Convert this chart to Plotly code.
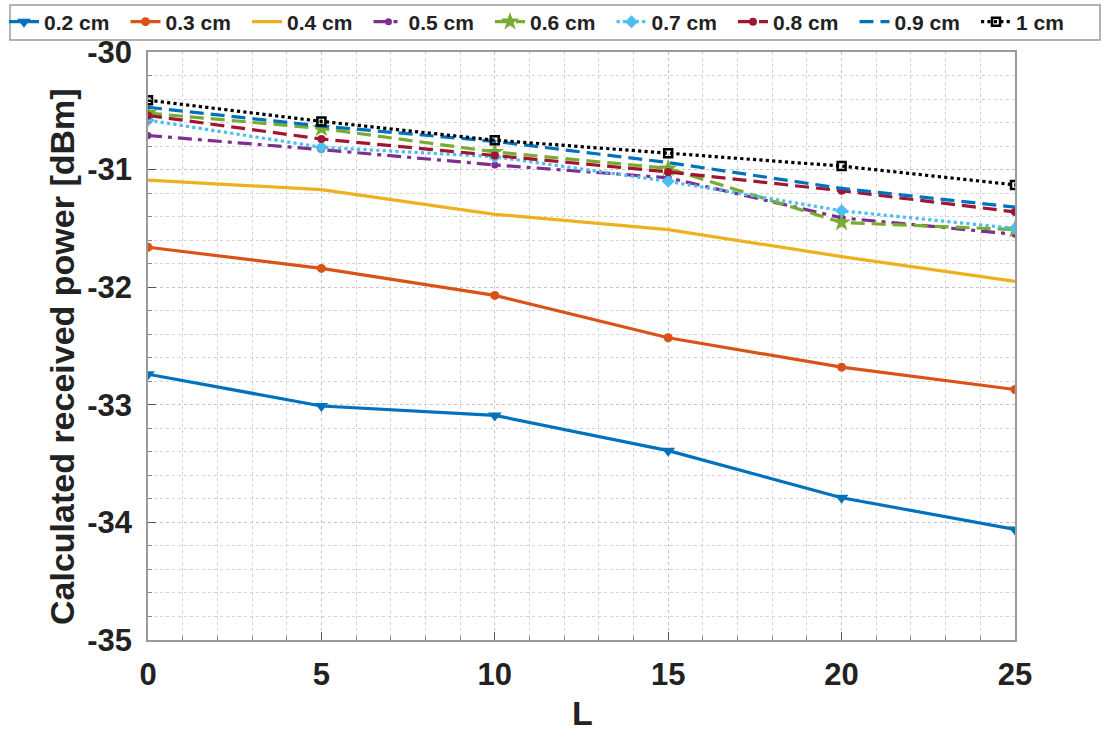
import plotly.graph_objects as go

L = [0, 5, 10, 15, 20, 25]
labels = ["0.2 cm", "0.3 cm", "0.4 cm", "0.5 cm", "0.6 cm", "0.7 cm", "0.8 cm", "0.9 cm", "1 cm"]
p02 = [-32.74, -33.01, -33.09, -33.39, -33.79, -34.06]
p03 = [-31.66, -31.84, -32.07, -32.43, -32.68, -32.87]
p04 = [-31.09, -31.17, -31.38, -31.51, -31.74, -31.95]
p05 = [-30.71, -30.83, -30.96, -31.07, -31.41, -31.55]
p06 = [-30.52, -30.65, -30.85, -30.99, -31.45, -31.51]
p07 = [-30.58, -30.81, -30.89, -31.10, -31.35, -31.50]
p08 = [-30.54, -30.74, -30.88, -31.02, -31.18, -31.36]
p09 = [-30.47, -30.63, -30.76, -30.94, -31.16, -31.32]
p10 = [-30.41, -30.59, -30.75, -30.86, -30.97, -31.13]
yticks = [-35, -34, -33, -32, -31, -30]
xticks = [0, 5, 10, 15, 20, 25]
ytitle = "Calculated received power [dBm]"
xtitle = "L"

series = [p02, p03, p04, p05, p06, p07, p08, p09, p10]
colors = ["#0072BD", "#D95319", "#EDB120", "#7E2F8E", "#77AC30", "#4DBEEE", "#A2142F", "#0072BD", "#000000"]
dashes = ["solid", "solid", "solid", "14px,6px,4px,6px", "14px,7px", "dot", "14px,7px", "14px,7px", "dot"]
symbols = ["triangle-down", "circle", None, "circle", "star", "diamond", "circle", None, "square-open"]
msizes = [12, 9, 0, 7, 14, 10, 8, 0, 8]

FONT = "Liberation Sans"
TXT = "#222222"
W, H = 1105, 738
ML, MR, MT, MB = 148, 90, 52, 98

fig = go.Figure()
legend_layouts = {}
for i, (name, ys, c, d, s, ms) in enumerate(zip(labels, series, colors, dashes, symbols, msizes)):
    if s:
        kw = dict(mode="lines+markers",
                  marker=dict(symbol=s, size=ms, color=c,
                              line=dict(width=2.5 if s == "square-open" else 0, color=c)))
    else:
        kw = dict(mode="lines")
    lname = f"legend{i + 2}"
    fig.add_trace(go.Scatter(x=L, y=ys, name=name, legend=lname,
                             line=dict(color=c, width=3.2, dash=d), **kw))
    left_px = 4 + i * 121.5
    legend_layouts[lname] = dict(
        x=left_px / W, xref="container", xanchor="left",
        y=1 - 22 / H, yref="container", yanchor="middle",
        bgcolor="rgba(0,0,0,0)", borderwidth=0,
        font=dict(family=FONT, size=21, color=TXT, weight="bold"),
        itemwidth=30,
    )

axis_common = dict(showline=True, linecolor="#9a9a9a", linewidth=1.5, mirror=True,
                   showgrid=True, gridcolor="#c4c4c4", griddash="dot", gridwidth=1,
                   ticks="inside", ticklen=8, tickcolor="#555555", zeroline=False,
                   tickfont=dict(family=FONT, size=31, color=TXT, weight="bold"))

fig.update_xaxes(range=[0, 25], tickvals=xticks, ticktext=[str(v) for v in xticks],
                 ticklabelstandoff=6,
                 minor=dict(dtick=1, showgrid=True, gridcolor="#d4d4d4", griddash="dot",
                            ticks="inside", ticklen=4, tickcolor="#888888"),
                 **axis_common)
fig.update_yaxes(range=[-35, -30], tickvals=yticks, ticktext=[str(v) for v in yticks],
                 ticklabelstandoff=8,
                 minor=dict(dtick=0.2, showgrid=True, gridcolor="#d4d4d4", griddash="dot",
                            ticks="inside", ticklen=4, tickcolor="#888888"),
                 **axis_common)

pw, ph = W - ML - MR, H - MT - MB
# axis titles as annotations (pixel positions -> paper coordinates)
fig.add_annotation(text=ytitle, xref="paper", yref="paper",
                   x=(62 - ML) / pw, y=(H - MB - 357) / ph, textangle=-90,
                   showarrow=False, xanchor="center", yanchor="middle",
                   font=dict(family=FONT, size=34, color=TXT, weight="bold"))
fig.add_annotation(text=xtitle, xref="paper", yref="paper",
                   x=(582 - ML) / pw, y=(H - MB - 713) / ph,
                   showarrow=False, xanchor="center", yanchor="middle",
                   font=dict(family=FONT, size=34, color=TXT, weight="bold"))
# legend frame
fig.add_shape(type="rect", xref="paper", yref="paper",
              x0=(10 - ML) / pw, x1=(1100 - ML) / pw,
              y0=(H - MB - 40) / ph, y1=(H - MB - 5) / ph,
              line=dict(color="#9a9a9a", width=1.5), fillcolor="white", layer="below")

fig.update_layout(
    width=W, height=H,
    margin=dict(l=ML, r=MR, t=MT, b=MB, autoexpand=False),
    plot_bgcolor="white", paper_bgcolor="white",
    **legend_layouts,
)

fig.write_html("out.html")
